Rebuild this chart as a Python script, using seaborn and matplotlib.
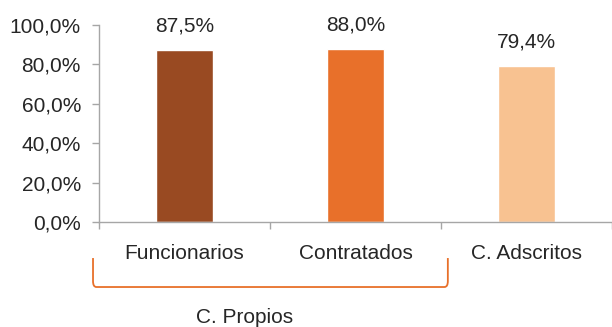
import matplotlib
matplotlib.use("Agg")
import matplotlib.pyplot as plt
import matplotlib.transforms as mtransforms
from matplotlib.path import Path
from matplotlib.patches import PathPatch
import seaborn as sns
import pandas as pd

categories = ["Funcionarios", "Contratados", "C. Adscritos"]
values = [87.5, 88.0, 79.4]
value_labels = ["87,5%", "88,0%", "79,4%"]
ytick_values = [0, 20, 40, 60, 80, 100]
ytick_labels = ["0,0%", "20,0%", "40,0%", "60,0%", "80,0%", "100,0%"]
group_label = "C. Propios"
colors = ["#994A22", "#E8702A", "#F8C291"]

sns.set_theme(style="white")
plt.rcParams["font.family"] = ["Liberation Sans", "DejaVu Sans"]
text_color = "#262626"
axis_color = "#A6A6A6"
fs = 15

df = pd.DataFrame({"cat": categories, "val": values})

fig = plt.figure(figsize=(6.12, 3.27), dpi=100)
ax = fig.add_axes([99 / 612, 1 - 222 / 327, 1 - 99 / 612, 197 / 327])

sns.barplot(data=df, x="cat", y="val", hue="cat", palette=colors,
            width=0.333, legend=False, ax=ax, saturation=1)

ax.set_xlim(-0.5, 2.5)
ax.set_ylim(0, 100)
ax.set_yticks(ytick_values)
ax.set_yticklabels(ytick_labels, fontsize=fs, color=text_color)
ax.set_xticks(range(len(categories)))
ax.set_xticklabels(categories, fontsize=fs, color=text_color)
ax.set_xticks([-0.5, 0.5, 1.5, 2.5], minor=True)
ax.tick_params(axis="x", which="major", bottom=True, length=0, pad=16)
ax.tick_params(axis="x", which="minor", bottom=True, length=5, width=1,
               color=axis_color, direction="out")
ax.tick_params(axis="y", which="major", left=True, length=5, width=1,
               color=axis_color, direction="out", pad=8)
ax.set_xlabel("")
ax.set_ylabel("")

for s in ["top", "right"]:
    ax.spines[s].set_visible(False)
for s in ["left", "bottom"]:
    ax.spines[s].set_color(axis_color)
    ax.spines[s].set_linewidth(1)

for i, (v, lab) in enumerate(zip(values, value_labels)):
    ax.annotate(lab, (i, v), xytext=(0, 10), textcoords="offset points",
                ha="center", va="bottom", fontsize=fs, color=text_color)

# bracket grouping first two categories
trans = mtransforms.blended_transform_factory(ax.transData, ax.transAxes)
x0, x1 = -0.535, 1.54
ytop, ybot = -0.183, -0.33
r = 0.02
verts = [(x0, ytop), (x0, ybot + 0.03), (x0, ybot), (x0 + r, ybot),
         (x1 - r, ybot), (x1, ybot), (x1, ybot + 0.03), (x1, ytop)]
codes = [Path.MOVETO, Path.LINETO, Path.CURVE3, Path.CURVE3,
         Path.LINETO, Path.CURVE3, Path.CURVE3, Path.LINETO]
patch = PathPatch(Path(verts, codes), transform=trans, fill=False,
                  edgecolor="#E8702A", linewidth=1.3, clip_on=False)
ax.add_patch(patch)
ax.text(0.354, -0.487, group_label, transform=trans, ha="center", va="center",
        fontsize=fs, color=text_color)

fig.savefig("out.png", dpi=100)
